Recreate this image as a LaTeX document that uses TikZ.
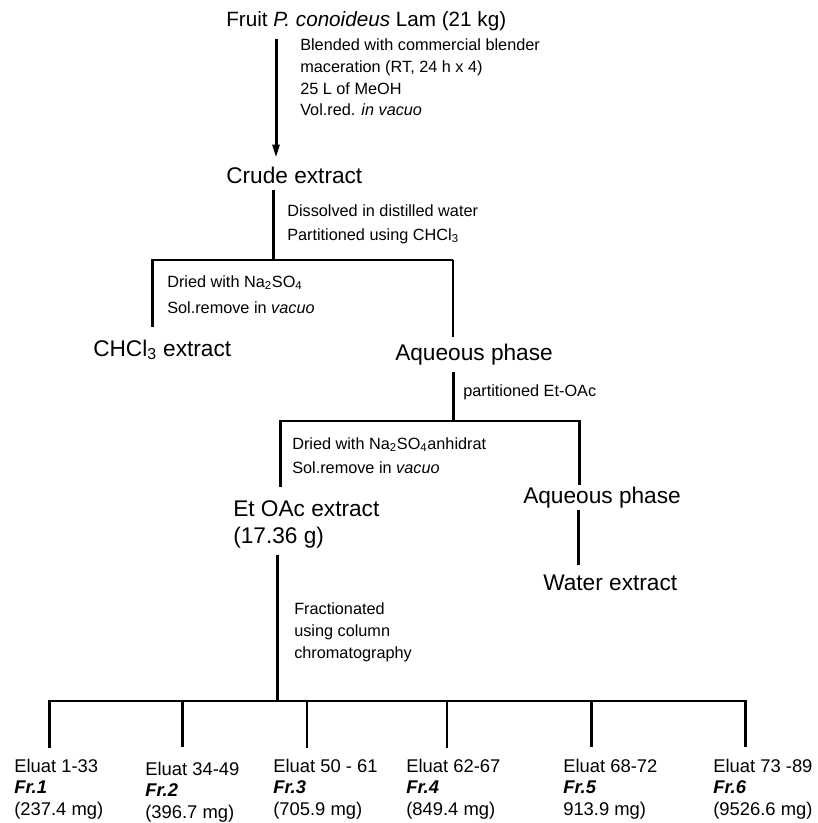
\documentclass[tikz,border=0pt]{standalone}
\usepackage{fontspec}
\setmainfont{Liberation Sans}
\usetikzlibrary{arrows.meta}
\begin{document}
\begin{tikzpicture}[x=0.75pt,y=-0.75pt,
  titlef/.style={font=\fontsize{15.5}{18}\selectfont, inner sep=0pt, anchor=base west},
  mainf/.style={font=\fontsize{17}{20}\selectfont, inner sep=0pt, anchor=base west},
  lblf/.style={font=\fontsize{12.2}{#1}\selectfont, inner sep=0pt, anchor=north west, align=left},
  botf/.style={font=\fontsize{13.8}{16.3}\selectfont, inner sep=0pt, anchor=north west, align=left},
  thk/.style={line width=2.25pt},
  thn/.style={line width=1.2pt},
  arr/.style={-{Triangle[length=10pt,width=5pt]}}
]
\useasboundingbox (0,0) rectangle (817,823);

% ---- texts ----
\node[titlef] (fruit) at (226,27) {Fruit \textit{P. conoideus} Lam (21 kg)};
\node[lblf=16.3pt] (l1) at (300,38.5) {Blended with commercial blender\\maceration (RT, 24 h x 4)\\25 L of MeOH\\Vol.red. \textit{in vacuo}};
\node[mainf] (crude) at (226,184) {Crude extract};
\node[lblf=18pt] (l2) at (287,204.5) {Dissolved in distilled water\\Partitioned using CHCl\textsubscript{3}};
\node[lblf=19.5pt] (l3) at (167,275.5) {Dried with Na\textsubscript{2}SO\textsubscript{4}\\Sol.remove in \textit{vacuo}};
\node[mainf] (chcl) at (93,356) {CHCl\textsubscript{3} extract};
\node[mainf] (aq1) at (395,360) {Aqueous phase};
\node[lblf=12pt] (l4) at (463,384.5) {partitioned Et-OAc};
\node[lblf=18pt] (l5) at (292,437.5) {Dried with Na\textsubscript{2}SO\textsubscript{4}anhidrat\\Sol.remove in \textit{vacuo}};
\node[mainf,anchor=north west,align=left,font=\fontsize{17}{20.25}\selectfont] (etoac) at (233,500) {Et OAc extract\\(17.36 g)};
\node[mainf] (aq2) at (523,503) {Aqueous phase};
\node[mainf] (water) at (543,590) {Water extract};
\node[lblf=16.5pt] (l6) at (294,602.5) {Fractionated\\using column\\chromatography};

\node[botf] (e1) at (14,758.5) {Eluat 1-33\\\textbf{\textit{Fr.1}}\\(237.4 mg)};
\node[botf] (e2) at (145,761.5) {Eluat 34-49\\\textbf{\textit{Fr.2}}\\(396.7 mg)};
\node[botf] (e3) at (273,758.5) {Eluat 50 - 61\\\textbf{\textit{Fr.3}}\\(705.9 mg)};
\node[botf] (e4) at (406,758.5) {Eluat 62-67\\\textbf{\textit{Fr.4}}\\(849.4 mg)};
\node[botf] (e5) at (563,758.5) {Eluat 68-72\\\textbf{\textit{Fr.5}}\\913.9 mg)};
\node[botf] (e6) at (713,758.5) {Eluat 73 -89\\\textbf{\textit{Fr.6}}\\(9526.6 mg)};

% ---- connector points ----
\coordinate (a0) at (276,39);   \coordinate (a1) at (276,158);
\coordinate (b0) at (273,190);  \coordinate (b1) at (273,260);
\coordinate (bl) at (152,260);  \coordinate (br) at (453,260);
\coordinate (bl2) at (152,327); \coordinate (br2) at (453,337);
\coordinate (c0) at (453,372);  \coordinate (c1) at (453,421);
\coordinate (cl) at (280,421);  \coordinate (cr) at (579,421);
\coordinate (cl2) at (280,487); \coordinate (cr2) at (579,485);
\coordinate (d0) at (578,510);  \coordinate (d1) at (578,565);
\coordinate (f0) at (277,555);  \coordinate (f1) at (277,701);
\coordinate (h1) at (49,701);   \coordinate (h2) at (182,701);
\coordinate (h3) at (307,701);  \coordinate (h4) at (447,701);
\coordinate (h5) at (591,701);  \coordinate (h6) at (745,701);
\coordinate (g1) at (49,748);   \coordinate (g2) at (182,747);
\coordinate (g3) at (307,748);  \coordinate (g4) at (447,748);
\coordinate (g5) at (591,747);  \coordinate (g6) at (745,747);

% ---- connectors ----
\draw[thk,arr] (a0) -- (a1);
\draw[thk] (b0) -- (b1);
\draw[thn] (bl) -- (br);
\draw[thk] ([yshift=0.6pt]bl) -- (bl2);
\draw[thn] (br) -- (br2);
\draw[thk] (c0) -- (c1);
\draw[thn] (cl) -- (cr);
\draw[thk] ([yshift=0.6pt]cl) -- (cl2);
\draw[thk] ([yshift=0.6pt]cr) -- (cr2);
\draw[thk] (d0) -- (d1);
\draw[thk] (f0) -- (f1);
\draw[thn] (h1) -- (h6);
\draw[thk] ([yshift=0.6pt]h1) -- (g1);
\draw[thk] ([yshift=0.6pt]h2) -- (g2);
\draw[thn] (h3) -- (g3);
\draw[thn] (h4) -- (g4);
\draw[thk] ([yshift=0.6pt]h5) -- (g5);
\draw[thk] ([yshift=0.6pt]h6) -- (g6);
\end{tikzpicture}
\end{document}
